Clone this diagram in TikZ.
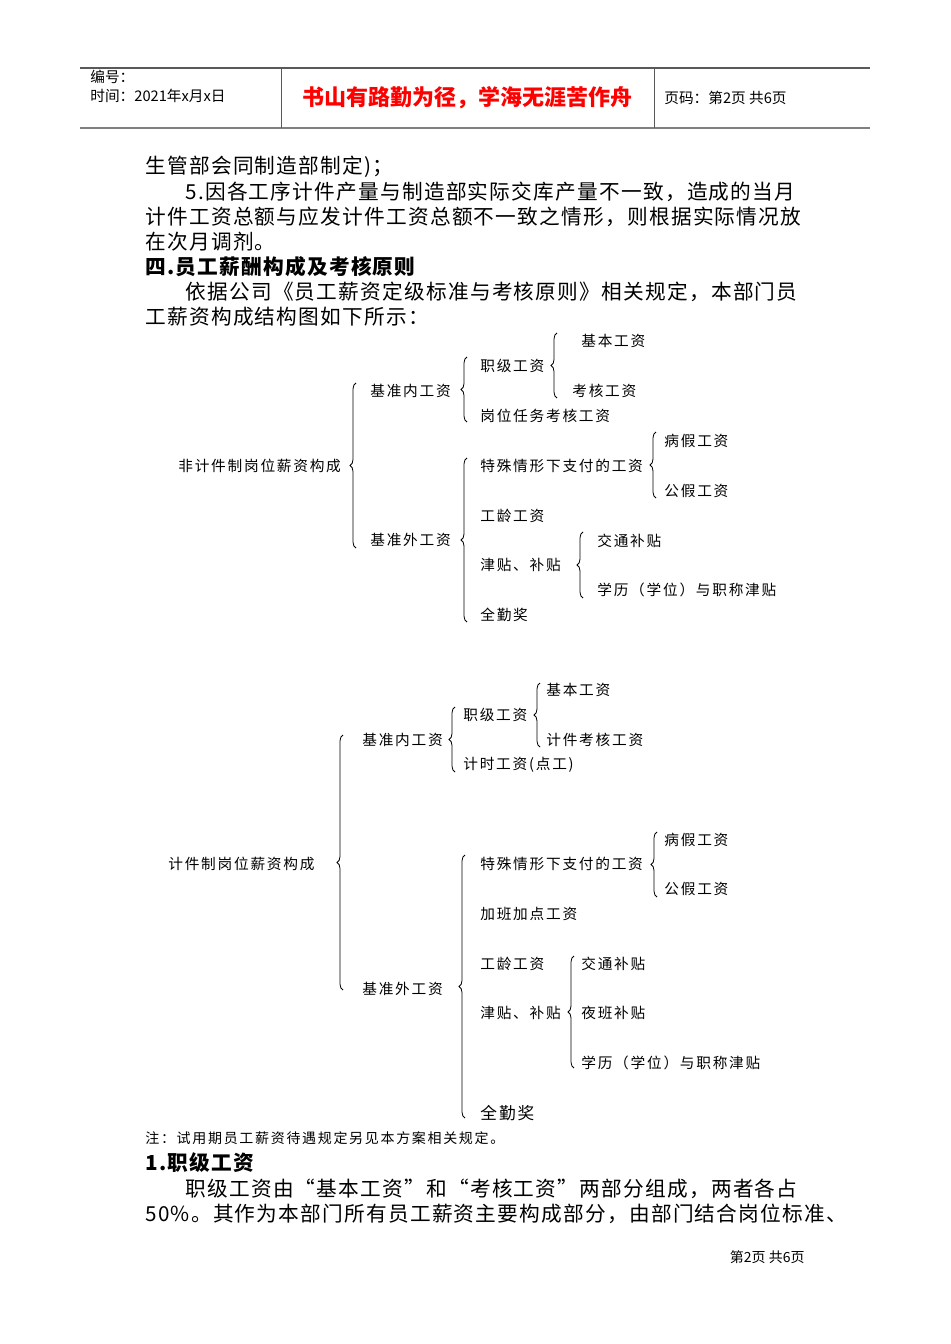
\documentclass[tikz,border=0pt]{standalone}
\usepackage{fontspec}
\setmainfont{Noto Sans CJK SC}
\newfontfamily\bodyfont[LetterSpace=6]{Noto Sans CJK SC}
\newfontfamily\dgfont[LetterSpace=12]{Noto Sans CJK SC}
\usetikzlibrary{decorations.pathreplacing}
\newcommand{\brc}[3]{\draw[decorate,decoration={brace,amplitude=4.5pt}] (#1,#3) -- (#1,#2);}
\tikzset{
  body/.style={anchor=west,inner sep=0pt,font=\bodyfont\fontsize{15.5pt}{18pt}\selectfont},
  bodyb/.style={anchor=west,inner sep=0pt,font=\bodyfont\fontsize{15.5pt}{18pt}\selectfont\bfseries},
  dg/.style={anchor=west,inner sep=0pt,font=\dgfont\fontsize{11pt}{13pt}\selectfont},
  hd/.style={anchor=west,inner sep=0pt,font=\fontsize{11pt}{13pt}\selectfont},
}
\begin{document}
\begin{tikzpicture}[x=0.75pt,y=-0.75pt,line width=0.6pt]
\useasboundingbox (0,0) rectangle (950,1344);
% header
\draw[line width=0.8pt,gray!70!black] (80,68) -- (870,68);
\draw[line width=1.5pt,gray] (80,128) -- (870,128);
\draw[gray!70!black] (281,68) -- (281,128) (654,68) -- (654,128);
\node[hd] (h1) at (90,77) {编号：};
\node[hd] (h2) at (90,96) {时间：2021年x月x日};
\node[inner sep=0pt,text=red,font=\fontsize{16.5pt}{18pt}\selectfont\bfseries] (h3) at (467,98) {书山有路勤为径，学海无涯苦作舟};
\node[hd] (h4) at (664,98) {页码：第2页 共6页};
% body
\node[body] (b1) at (145,167) {生管部会同制造部制定)；};
\node[body] (b2) at (185,192) {5.因各工序计件产量与制造部实际交库产量不一致，造成的当月};
\node[body] (b3) at (145,217) {计件工资总额与应发计件工资总额不一致之情形，则根据实际情况放};
\node[body] (b4) at (145,242) {在次月调剂。};
\node[bodyb] (b5) at (145,267) {四.员工薪酬构成及考核原则};
\node[body] (b6) at (185,292) {依据公司《员工薪资定级标准与考核原则》相关规定，本部门员};
\node[body] (b7) at (145,317) {工薪资构成结构图如下所示：};
% diagram 1
\node[dg] (a0) at (178,466) {非计件制岗位薪资构成};
\brc{356}{383}{548}
\node[dg] (a1) at (370,391) {基准内工资};
\node[dg] (a2) at (370,540) {基准外工资};
\brc{467}{357}{422}
\node[dg] (a11) at (480,366) {职级工资};
\node[dg] (a12) at (480,416) {岗位任务考核工资};
\brc{557}{333}{398}
\node[dg] (a111) at (581,341) {基本工资};
\node[dg] (a112) at (572,391) {考核工资};
\brc{467}{458}{622}
\node[dg] (a21) at (480,466) {特殊情形下支付的工资};
\node[dg] (a22) at (480,516) {工龄工资};
\node[dg] (a23) at (480,565) {津贴、补贴};
\node[dg] (a24) at (480,615) {全勤奖};
\brc{656}{432}{498}
\node[dg] (a211) at (664,441) {病假工资};
\node[dg] (a212) at (664,491) {公假工资};
\brc{583}{532}{598}
\node[dg] (a231) at (597,541) {交通补贴};
\node[dg] (a232) at (597,590) {学历（学位）与职称津贴};
% diagram 2
\node[dg] (c0) at (168,864) {计件制岗位薪资构成};
\brc{343}{735}{990}
\node[dg] (c1) at (362,740) {基准内工资};
\node[dg] (c2) at (362,989) {基准外工资};
\brc{455}{707}{772}
\node[dg] (c11) at (463,715) {职级工资};
\node[dg] (c12) at (463,765) {计时工资(点工)};
\brc{540}{683}{747}
\node[dg] (c111) at (546,690) {基本工资};
\node[dg] (c112) at (546,740) {计件考核工资};
\brc{465}{855}{1118}
\node[dg] (c21) at (480,864) {特殊情形下支付的工资};
\node[dg] (c22) at (480,914) {加班加点工资};
\node[dg] (c23) at (480,964) {工龄工资};
\node[dg] (c24) at (480,1013) {津贴、补贴};
\node[dg,font=\dgfont\fontsize{12.5pt}{14pt}\selectfont] (c25) at (480,1113) {全勤奖};
\brc{657}{832}{897}
\node[dg] (c211) at (664,840) {病假工资};
\node[dg] (c212) at (664,889) {公假工资};
\brc{574}{956}{1068}
\node[dg] (c241) at (581,964) {交通补贴};
\node[dg] (c242) at (581,1013) {夜班补贴};
\node[dg] (c243) at (581,1063) {学历（学位）与职称津贴};
% bottom text
\node[dg,font=\dgfont\fontsize{10.5pt}{12pt}\selectfont] (n1) at (145,1138) {注：试用期员工薪资待遇规定另见本方案相关规定。};
\node[bodyb] (n2) at (145,1163) {1.职级工资};
\node[body] (n3) at (185,1189) {职级工资由“基本工资”和“考核工资”两部分组成，两者各占};
\node[body] (n4) at (145,1214) {50\%。其作为本部门所有员工薪资主要构成部分，由部门结合岗位标准、};
\node[anchor=east,inner sep=0pt,font=\fontsize{10.5pt}{12pt}\selectfont] (ft) at (805,1257) {第2页 共6页};
\end{tikzpicture}
\end{document}
